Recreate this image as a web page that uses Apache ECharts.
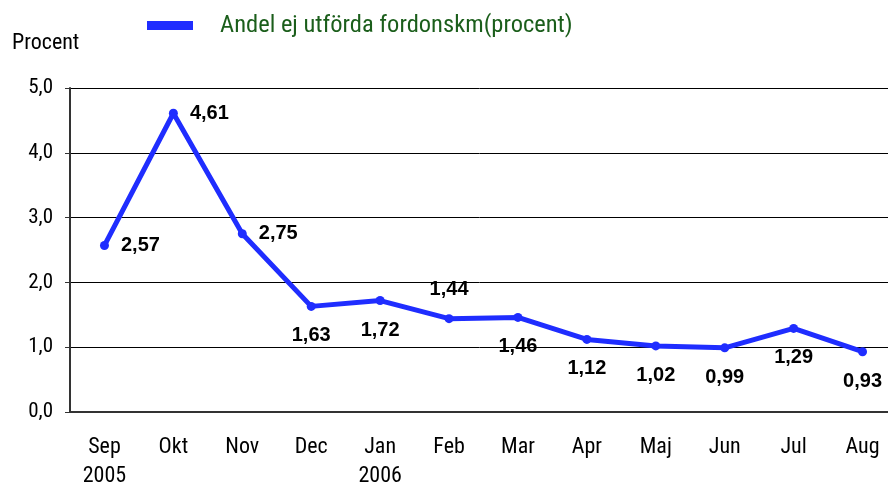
<!DOCTYPE html>
<html>
<head>
<meta charset="utf-8">
<script src="https://cdn.jsdelivr.net/npm/echarts@6/dist/echarts.min.js"></script>
<style>
  html, body { margin: 0; padding: 0; background: #fff; }
  #chart { width: 888px; height: 483px; }
</style>
</head>
<body>
<div id="chart"></div>
<script>
// data
var months = ['Sep\n2005', 'Okt', 'Nov', 'Dec', 'Jan\n2006', 'Feb', 'Mar', 'Apr', 'Maj', 'Jun', 'Jul', 'Aug'];
var andel = [2.57, 4.61, 2.75, 1.63, 1.72, 1.44, 1.46, 1.12, 1.02, 0.99, 1.29, 0.93];
var seriesName = 'Andel ej utförda fordonskm(procent)';
var yTicks = [0, 1, 2, 3, 4, 5];

var narrow = 'Roboto Condensed';
var bold = 'Liberation Sans';
var blue = '#1f2dff';

// where each value label sits relative to its point
var labelSide = ['right', 'right', 'right', 'bottom', 'bottom', 'top', 'bottom', 'bottom', 'bottom', 'bottom', 'bottom', 'bottom'];

function comma(v, d) {
    return v.toFixed(d).replace('.', ',');
}

var points = andel.map(function(v, i) {
    var side = labelSide[i];
    return {
        value: v,
        label: {
            position: side,
            distance: side === 'right' ? 12 : 15
        }
    };
});

var chart = echarts.init(document.getElementById('chart'));

chart.setOption({
    animation: false,
    textStyle: { fontFamily: narrow },
    legend: {
        data: [seriesName],
        left: 142,
        top: 8,
        icon: 'rect',
        itemWidth: 46,
        itemHeight: 9,
        textStyle: {
            fontFamily: narrow,
            fontSize: 24.5,
            color: '#1b5e1b',
            padding: [0, 0, 0, 22]
        }
    },
    graphic: [{
        type: 'text',
        left: 12,
        top: 32,
        style: { text: 'Procent', fontFamily: narrow, fontSize: 22, fill: '#000' }
    }],
    grid: {
        left: 70,
        width: 827,
        top: 88,
        bottom: 71,
        outerBoundsMode: 'none'
    },
    xAxis: {
        type: 'category',
        data: months,
        boundaryGap: true,
        axisLine: { lineStyle: { color: '#333', width: 2 } },
        axisTick: { length: 6, lineStyle: { color: '#333' } },
        axisLabel: {
            fontFamily: narrow,
            fontSize: 22,
            color: '#000',
            margin: 21,
            lineHeight: 29,
            interval: 0
        }
    },
    yAxis: {
        type: 'value',
        min: yTicks[0],
        max: yTicks[yTicks.length - 1],
        interval: 1,
        axisLine: { show: true, lineStyle: { color: '#333', width: 2 } },
        axisTick: { show: true, length: 5, lineStyle: { color: '#333' } },
        splitLine: { lineStyle: { color: '#000', width: 1 } },
        axisLabel: {
            fontFamily: narrow,
            fontSize: 21,
            color: '#000',
            margin: 17,
            formatter: function(v) { return comma(v, 1); }
        }
    },
    series: [{
        name: seriesName,
        type: 'line',
        data: points,
        color: blue,
        symbol: 'circle',
        symbolSize: 9,
        lineStyle: { width: 5, color: blue },
        itemStyle: { color: blue },
        label: {
            show: true,
            fontFamily: bold,
            fontWeight: 'bold',
            fontSize: 20,
            color: '#000',
            formatter: function(p) { return comma(p.value, 2); }
        }
    }]
});
</script>
</body>
</html>
